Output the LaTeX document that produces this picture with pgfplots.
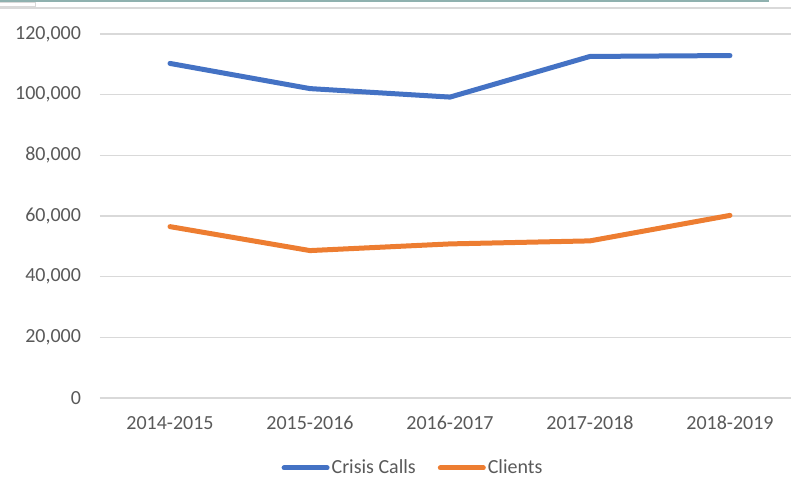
\documentclass[border=0pt]{standalone}
\usepackage{pgfplots}
\pgfplotsset{compat=1.18}
\usepackage{fontspec}
\setmainfont{Carlito}
\definecolor{callblue}{HTML}{4472C4}
\definecolor{clientorange}{HTML}{ED7D31}
\definecolor{gridgray}{HTML}{D9D9D9}
\definecolor{txtgray}{HTML}{595959}
\definecolor{topteal}{HTML}{8FB1AF}

\begin{document}
\begin{tikzpicture}
% fixed page: 1px of the reference = 0.5pt
\useasboundingbox (-50pt,-45pt) rectangle (345.5pt,199pt);
\begin{axis}[
    at={(0,0)}, anchor=south west,
    scale only axis,
    width=345.5pt, height=182pt,
    xmin=-0.5, xmax=4.436,
    ymin=0, ymax=120000,
    xtick={0,1,2,3,4},
    xticklabels={2014-2015,2015-2016,2016-2017,2017-2018,2018-2019},
    ytick={0,20000,40000,60000,80000,100000,120000},
    scaled y ticks=false,
    axis line style={draw=none},
    major tick length=0pt,
    ymajorgrids,
    grid style={gridgray, line width=0.75pt},
    tick label style={font=\fontsize{10}{12}\selectfont, text=txtgray},
    yticklabel style={xshift=-6pt, /pgf/number format/.cd, fixed, 1000 sep={,}, assume math mode=true},
    xticklabel style={yshift=-5.5pt},
    legend columns=2,
    legend style={at={(0.453,-0.192)}, anchor=center, draw=none, fill=none,
        font=\fontsize{10}{12}\selectfont, text=txtgray,
        nodes={inner sep=1pt},
        /tikz/every even column/.append style={column sep=10pt}},
    legend image code/.code={\draw[#1] (1.25pt,0pt) -- (22.75pt,0pt);},
]
\addplot[callblue, line width=2.5pt, line cap=round, line join=round] coordinates {
    (0,110300) (1,102000) (2,99200) (3,112600) (4,112900)
};
\addlegendentry{Crisis Calls}
\addplot[clientorange, line width=2.5pt, line cap=round, line join=round] coordinates {
    (0,56500) (1,48600) (2,50800) (3,51800) (4,60200)
};
\addlegendentry{Clients}
\end{axis}
% window edge left over in the screenshot
\draw[topteal, line width=1pt] (-50pt,198.5pt) -- (334.5pt,198.5pt);
\draw[gridgray, line width=0.75pt] (-50pt,195pt) -- (345.5pt,195pt);
\draw[gridgray, line width=0.5pt] (-50pt,195.5pt) rectangle (-32pt,197.5pt);
\end{tikzpicture}
\end{document}
